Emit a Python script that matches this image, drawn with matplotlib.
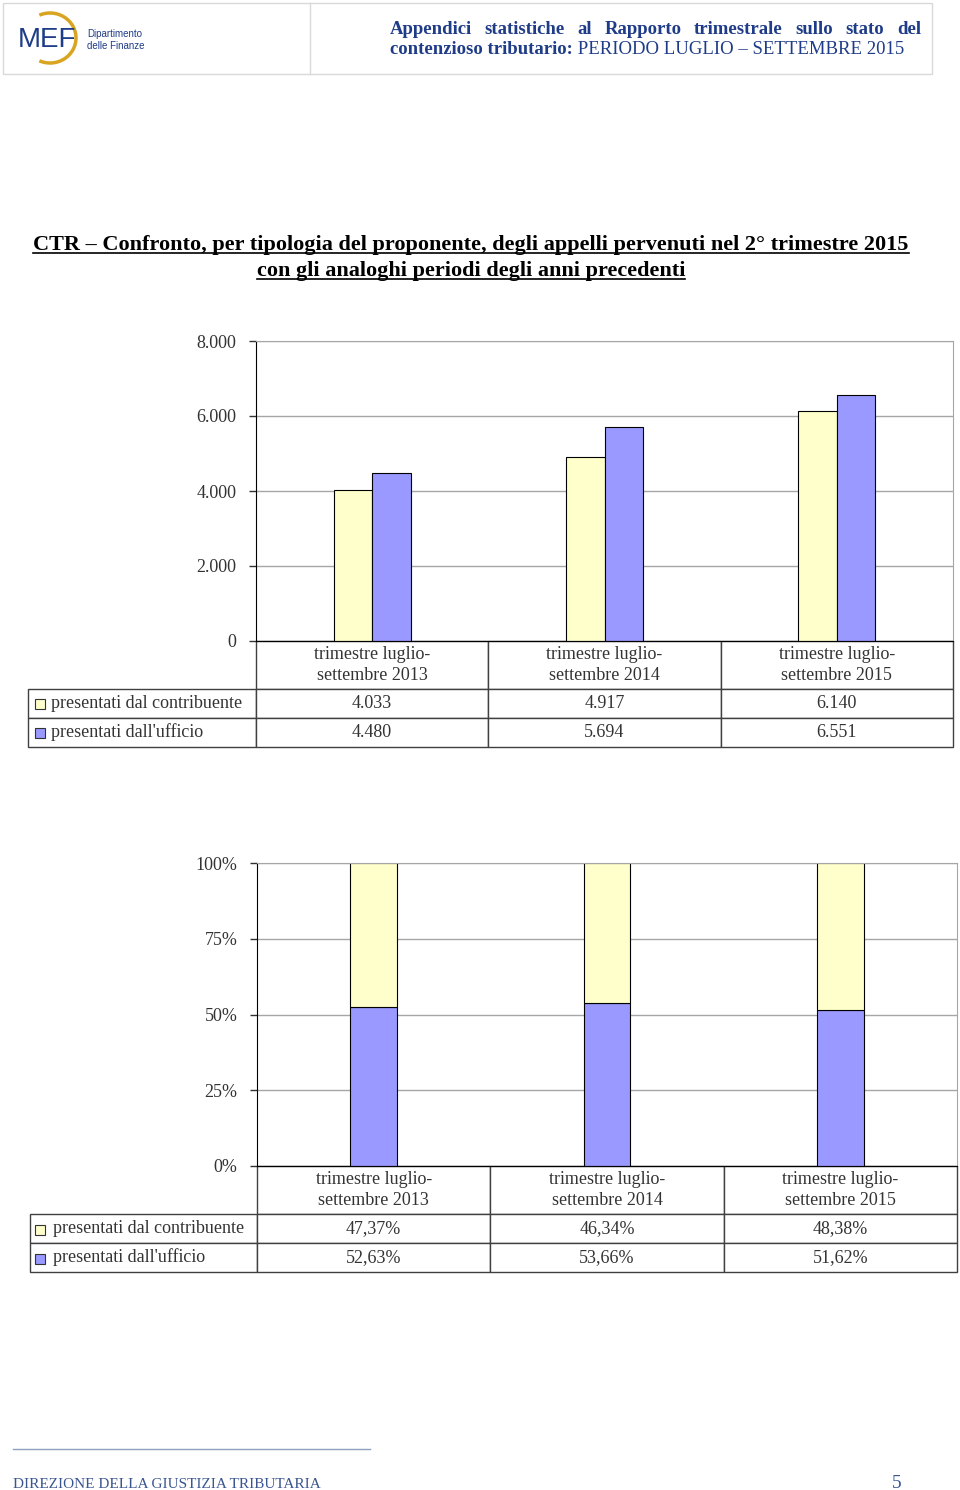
import numpy as np
import matplotlib.pyplot as plt
from matplotlib.patches import Rectangle, Arc
from matplotlib.table import Table
from matplotlib.ticker import FuncFormatter, MultipleLocator

plt.rcParams['font.family'] = ['Liberation Serif', 'DejaVu Serif']

# data
categories = ['trimestre luglio-\nsettembre 2013',
              'trimestre luglio-\nsettembre 2014',
              'trimestre luglio-\nsettembre 2015']
series_names = ['presentati dal contribuente', "presentati dall'ufficio"]
contribuente = [4033, 4917, 6140]
ufficio = [4480, 5694, 6551]
pct_contribuente = [47.37, 46.34, 48.38]
pct_ufficio = [52.63, 53.66, 51.62]

colors = ['#FFFFCC', '#9999FF']
blue_txt = '#1F3C88'

W, H = 960, 1490
fig = plt.figure(figsize=(W / 100, H / 100), dpi=100)
fig.set_facecolor('w')


def px_axes(l, t, r, b):
    return fig.add_axes([l / W, 1 - b / H, (r - l) / W, (b - t) / H])


def style(ax):
    ax.set_xticks([])
    ax.set_xlim(-0.5, len(categories) - 0.5)
    ax.grid(axis='y', color='#A6A6A6', lw=1)
    ax.set_axisbelow(True)
    for s in ['top', 'right']:
        ax.spines[s].set_color('#A6A6A6')
    for s in ['left', 'bottom']:
        ax.spines[s].set_color('black')
    ax.tick_params(axis='y', length=5, width=1, pad=9, labelsize=13,
                   colors='#333333')


def add_table(ax, rows, label_w, ax_w, ax_h):
    # bbox only covers the data grid; the label column hangs off to the left
    lw = label_w / ax_w
    hh, rh = 48, 29
    tot = (hh + 2 * rh) / ax_h
    tab = Table(ax, bbox=[0, -tot, 1, tot])
    for j, c in enumerate(categories):
        cell = tab.add_cell(0, j, 1 / 3, hh / ax_h, text=c, loc='center')
        cell.get_text().set_linespacing(1.35)
    for i, (name, row) in enumerate(zip(series_names, rows), start=1):
        tab.add_cell(i, -1, lw, rh / ax_h, text=name, loc='left')
        for j, v in enumerate(row):
            tab.add_cell(i, j, 1 / 3, rh / ax_h, text=v, loc='center')
    tab.auto_set_font_size(False)
    tab.set_fontsize(13)
    for cell in tab.get_celld().values():
        cell.set_edgecolor('#404040')
        cell.set_linewidth(1)
        cell.get_text().set_color('#333333')
    ax.add_table(tab)
    return tab


x = np.arange(len(categories))

# chart 1 - absolute values
ax1 = px_axes(256, 341, 953, 641)
bw = 0.165
ax1.bar(x - bw / 2, contribuente, bw, color=colors[0], edgecolor='black', lw=0.8)
ax1.bar(x + bw / 2, ufficio, bw, color=colors[1], edgecolor='black', lw=0.8)
ax1.set_ylim(0, 8000)
ax1.yaxis.set_major_locator(MultipleLocator(2000))
ax1.yaxis.set_major_formatter(FuncFormatter(lambda v, p: f"{int(v):,}".replace(',', '.')))
style(ax1)
rows1 = [[f"{v:,}".replace(',', '.') for v in contribuente],
         [f"{v:,}".replace(',', '.') for v in ufficio]]
add_table(ax1, rows1, 228, 697, 300)

# chart 2 - percentages, stacked
ax2 = px_axes(257, 863, 957, 1166)
bw2 = 0.2
ax2.bar(x, pct_ufficio, bw2, color=colors[1], edgecolor='black', lw=0.8)
ax2.bar(x, pct_contribuente, bw2, bottom=pct_ufficio, color=colors[0],
        edgecolor='black', lw=0.8)
ax2.set_ylim(0, 100)
ax2.yaxis.set_major_locator(MultipleLocator(25))
ax2.yaxis.set_major_formatter(FuncFormatter(lambda v, p: f"{int(v)}%"))
style(ax2)
fmt = lambda v: f"{v:.2f}".replace('.', ',') + '%'
rows2 = [[fmt(v) for v in pct_contribuente], [fmt(v) for v in pct_ufficio]]
add_table(ax2, rows2, 227, 700, 303)

# overlay in pixel coordinates for page decorations
ov = fig.add_axes([0, 0, 1, 1], zorder=5)
ov.set_xlim(0, W)
ov.set_ylim(H, 0)
ov.axis('off')

# legend keys in the table row labels
for yc in [703.5, 1229.5]:
    ov.add_patch(Rectangle((35, yc - 5), 10, 10, fc=colors[0], ec='#333333', lw=0.8))
for yc in [732.5, 1258.5]:
    ov.add_patch(Rectangle((35, yc - 5), 10, 10, fc=colors[1], ec='#333333', lw=0.8))

# header box
ov.add_patch(Rectangle((3, 3), 929, 71, fill=False, ec='#D9D9D9', lw=1))
ov.plot([310, 310], [3, 74], color='#D9D9D9', lw=1)
ov.add_patch(Arc((50, 38), 52, 50, theta1=-115, theta2=115, color='#D9A520', lw=2.5))
ov.text(47, 40, 'MEF', fontsize=20, color=blue_txt, ha='center', va='center',
        family='Liberation Sans')
ov.text(87, 34, 'Dipartimento', fontsize=7, color=blue_txt, va='center',
        family='Liberation Sans')
ov.text(87, 46, 'delle Finanze', fontsize=7, color=blue_txt, va='center',
        family='Liberation Sans')

r = fig.canvas.get_renderer()
words = 'Appendici statistiche al Rapporto trimestrale sullo stato del'.split()
ts = [ov.text(0, 29, w, fontsize=13.5, weight='bold', color=blue_txt, va='center')
      for w in words]
widths = [t.get_window_extent(r).width for t in ts]
gap = (921 - 390 - sum(widths)) / (len(words) - 1)
xp = 390
for t, w in zip(ts, widths):
    t.set_x(xp)
    xp += w + gap
t2 = ov.text(390, 50, 'contenzioso tributario:', fontsize=13.5, weight='bold',
             color=blue_txt, va='center')
w2 = t2.get_window_extent(r).width
ov.text(390 + w2, 50, ' PERIODO LUGLIO \u2013 SETTEMBRE 2015', fontsize=13.5,
        color=blue_txt, va='center')

# title with underline
titles = ['CTR \u2013 Confronto, per tipologia del proponente, degli appelli pervenuti nel 2\u00b0 trimestre 2015',
          'con gli analoghi periodi degli anni precedenti']
for yc, s in zip([245, 271], titles):
    t = ov.text(471, yc, s, fontsize=16, weight='bold', ha='center', va='center')
    bb = t.get_window_extent(r)
    ov.plot([bb.x0, bb.x1], [H - bb.y0 - 2, H - bb.y0 - 2], color='black', lw=1.2)

# footer
ov.plot([13, 370], [1449, 1449], color='#8EA2BD', lw=1)
ov.text(13, 1484, 'DIREZIONE DELLA GIUSTIZIA TRIBUTARIA', fontsize=11,
        color='#3A5590', va='center')
ov.text(897, 1483, '5', fontsize=14, color='#3A5590', ha='center', va='center')

fig.savefig('out.png', dpi=100)
